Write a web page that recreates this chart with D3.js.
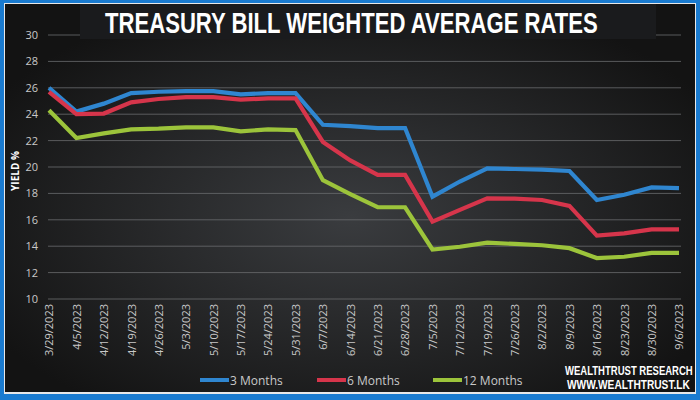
<!DOCTYPE html>
<html><head><meta charset="utf-8">
<script src="https://cdn.jsdelivr.net/npm/d3@7"></script>
<style>html,body{margin:0;padding:0;background:#1a7bd0;}svg{display:block;}</style>
</head><body>
<svg id="c" width="700" height="400"></svg>
<script>
const categories = ["3/29/2023","4/5/2023","4/12/2023","4/19/2023","4/26/2023","5/3/2023","5/10/2023","5/17/2023","5/24/2023","5/31/2023","6/7/2023","6/14/2023","6/21/2023","6/28/2023","7/5/2023","7/12/2023","7/19/2023","7/26/2023","8/2/2023","8/9/2023","8/16/2023","8/23/2023","8/30/2023","9/6/2023"];
const months3 = [26.0,24.2,24.8,25.6,25.7,25.75,25.75,25.5,25.6,25.6,23.2,23.1,22.95,22.95,17.75,18.9,19.9,19.85,19.8,19.7,17.5,17.9,18.45,18.4];
const months6 = [25.7,24.0,24.05,24.9,25.15,25.3,25.3,25.1,25.2,25.2,21.9,20.5,19.4,19.4,15.86,16.75,17.63,17.6,17.5,17.05,14.8,14.97,15.28,15.28];
const months12 = [24.3,22.2,22.55,22.85,22.9,23.0,23.0,22.7,22.85,22.8,19.0,17.95,16.95,16.95,13.75,13.96,14.27,14.17,14.07,13.85,13.1,13.2,13.5,13.5];
const yTicks = [10,12,14,16,18,20,22,24,26,28,30];
const seriesNames = ["3 Months","6 Months","12 Months"];
const seriesColors = ["#2f86d0","#d6354b","#9cc43b"];

const svg = d3.select("#c");
const defs = svg.append("defs");
const rg = defs.append("radialGradient").attr("id","bg").attr("cx","50%").attr("cy","55%").attr("r","60%");
rg.append("stop").attr("offset","0%").attr("stop-color","#3a3c3f");
rg.append("stop").attr("offset","100%").attr("stop-color","#131313");

// frame
svg.append("rect").attr("x",0).attr("y",0).attr("width",700).attr("height",400).attr("fill","#1a7bd0");
svg.append("rect").attr("x",4).attr("y",3).attr("width",692).attr("height",391).attr("fill","#e8e8e8");
svg.append("rect").attr("x",5).attr("y",4).attr("width",690).attr("height",388).attr("fill","url(#bg)");

const x = d3.scalePoint().domain(categories).range([49,679]);
const y = d3.scaleLinear().domain([10,30]).range([299,35]);

// grid
svg.append("g").selectAll("line").data(yTicks).join("line")
  .attr("x1",48).attr("x2",681)
  .attr("y1",d=>y(d)).attr("y2",d=>y(d))
  .attr("stroke","#6a6c6e").attr("stroke-width",1).attr("opacity",0.8);

// y axis labels
const yAxis = d3.axisLeft(y).tickValues(yTicks).tickSize(0).tickPadding(0);
const ya = svg.append("g").attr("transform","translate(38,0)").call(yAxis);
ya.select(".domain").remove();
ya.selectAll("text").attr("fill","#c9c9c9").style("font-family","'Open Sans', sans-serif").style("font-size","11px");

// x axis labels
const xAxis = d3.axisBottom(x).tickSize(0).tickPadding(0);
const xa = svg.append("g").attr("transform","translate(0,304)").call(xAxis);
xa.select(".domain").remove();
xa.selectAll("text")
  .attr("fill","#c9c9c9").style("font-family","'Open Sans', sans-serif").style("font-size","11px")
  .attr("text-anchor","end").attr("transform","rotate(-90)").attr("x",0).attr("y",0).attr("dx",0).attr("dy","0.35em");

// fitted text helper (horizontal scale instead of textLength)
function fitText(str, x0, y0, targetW, size, family, weight) {
  const g = svg.append("g");
  const t = g.append("text").attr("x",0).attr("y",0).attr("fill","#ffffff")
    .style("font-family",family).style("font-weight",weight).style("font-size",size+"px").text(str);
  const w = t.node().getComputedTextLength();
  g.attr("transform",`translate(${x0},${y0}) scale(${targetW/w},1)`);
  return t;
}

// title band
svg.append("rect").attr("x",80).attr("y",4).attr("width",576).attr("height",35).attr("fill","#1a1b1d");
fitText("TREASURY BILL WEIGHTED AVERAGE RATES",105,33,493,30,"'Liberation Sans Narrow', 'Arial Narrow', sans-serif","bold");

// y title
svg.append("text").attr("transform","translate(19,171) rotate(-90)").attr("text-anchor","middle")
  .attr("fill","#ffffff").style("font-family","'Open Sans', sans-serif").style("font-weight","bold").style("font-size","10px")
  .text("YIELD %");

// lines
const line = d3.line().x((d,i)=>x(categories[i])).y(d=>y(d));
[months3,months6,months12].forEach((s,k)=>{
  svg.append("path").datum(s).attr("d",line).attr("fill","none")
    .attr("stroke",seriesColors[k]).attr("stroke-width",4.2).attr("stroke-linejoin","miter");
});

// legend
const legX = [200,317,433];
seriesNames.forEach((n,k)=>{
  svg.append("line").attr("x1",legX[k]).attr("x2",legX[k]+29).attr("y1",380).attr("y2",380)
    .attr("stroke",seriesColors[k]).attr("stroke-width",4);
  svg.append("text").attr("x",legX[k]+30).attr("y",384.5).attr("fill","#c9c9c9")
    .style("font-family","'Open Sans', sans-serif").style("font-size","12px").text(n);
});

// watermark
fitText("WEALTHTRUST RESEARCH",565,375,128,13,"'Liberation Sans Narrow', sans-serif","bold");
fitText("WWW.WEALTHTRUST.LK",567,389,123,13,"'Liberation Sans Narrow', sans-serif","bold");
</script>
</body></html>
